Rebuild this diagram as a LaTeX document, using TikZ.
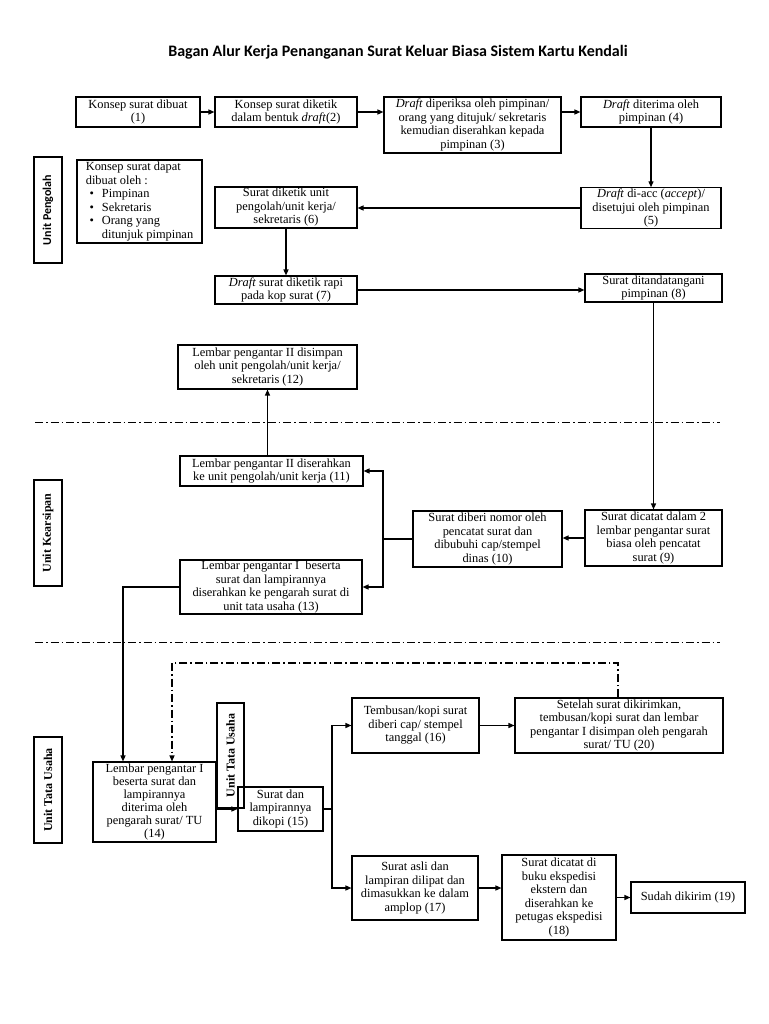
\documentclass[tikz,border=0pt]{standalone}
\usepackage{fontspec}
\setmainfont{Liberation Serif}
\newfontfamily\titlefont{Carlito}
\usetikzlibrary{arrows.meta}
\newcommand\bul{\hspace*{0.3em}\makebox[1em][l]{\textbullet}}
\begin{document}
\begin{tikzpicture}[x=1pt,y=-1pt,
 box/.style={draw, line width=1.1pt, align=center, inner sep=1pt, font=\fontsize{12.4}{13.5}\selectfont},
 arr/.style={line width=1.3pt, -{Triangle[length=6pt,width=5pt]}},
 ln/.style={line width=1.3pt},
 sep/.style={line width=1pt, dash pattern=on 8pt off 3pt on 1.5pt off 3pt},
 lab/.style={draw, line width=1.1pt, rotate=90, inner sep=0pt},
 ]
\useasboundingbox (0,0) rectangle (768,1024);

\node[font=\titlefont\bfseries\fontsize{16}{18}\selectfont] (title) at (398,52) {Bagan Alur Kerja Penanganan Surat Keluar Biasa Sistem Kartu Kendali};

% side labels
\node[lab, minimum width=106pt, minimum height=28pt, font=\titlefont\bfseries\fontsize{12}{13}\selectfont] (labP) at (48,210) {Unit Pengolah};
\node[lab, minimum width=106pt, minimum height=28pt, font=\bfseries\fontsize{12}{13}\selectfont] (labK) at (48,533) {Unit Kearsipan};
\node[lab, minimum width=106pt, minimum height=28pt, font=\bfseries\fontsize{12}{13}\selectfont] (labT) at (48,790) {Unit Tata Usaha};
\node[lab, minimum width=105pt, minimum height=27pt, font=\bfseries\fontsize{12}{13}\selectfont] (labT2) at (230.5,755.5) {Unit Tata Usaha};

% boxes
\node[box, minimum width=124pt, minimum height=30pt] (n1) at (138,112) {Konsep surat dibuat\\(1)};
\node[box, minimum width=142pt, minimum height=30pt] (n2) at (286,112) {Konsep surat diketik\\dalam bentuk \textit{draft}(2)};
\node[box, minimum width=177pt, minimum height=56pt] (n3) at (472.5,125) {\textit{Draft} diperiksa oleh pimpinan/\\orang yang ditujuk/ sekretaris\\kemudian diserahkan kepada\\pimpinan (3)};
\node[box, minimum width=140pt, minimum height=30pt] (n4) at (651,112) {\textit{Draft} diterima oleh\\pimpinan (4)};
\node[box, minimum width=140pt, minimum height=40pt] (n5) at (651,208) {\textit{Draft} di-acc (\textit{accept})/\\disetujui oleh pimpinan\\(5)};
\node[box, minimum width=142pt, minimum height=41pt] (n6) at (286,207.5) {Surat diketik unit\\pengolah/unit kerja/\\sekretaris (6)};
\node[box, minimum width=125pt, minimum height=83pt, align=left] (note) at (139.5,201.5) {Konsep surat dapat\\dibuat oleh :\\\bul Pimpinan\\\bul Sekretaris\\\bul Orang yang\\\hspace*{1.3em}ditunjuk pimpinan};
\node[box, minimum width=142pt, minimum height=28pt] (n7) at (286,290) {\textit{Draft} surat diketik rapi\\pada kop surat (7)};
\node[box, minimum width=137pt, minimum height=28pt] (n8) at (653.5,288) {Surat ditandatangani\\pimpinan (8)};
\node[box, minimum width=179pt, minimum height=44pt] (n12) at (267.5,367) {Lembar pengantar II disimpan\\oleh unit pengolah/unit kerja/\\sekretaris (12)};
\node[box, minimum width=183pt, minimum height=30pt] (n11) at (271.5,471) {Lembar pengantar II diserahkan\\ke unit pengolah/unit kerja (11)};
\node[box, minimum width=182pt, minimum height=54pt] (n13) at (271,587) {Lembar pengantar I\ \ beserta\\surat dan lampirannya\\diserahkan ke pengarah surat di\\unit tata usaha (13)};
\node[box, minimum width=149pt, minimum height=56pt] (n10) at (487.5,539) {Surat diberi nomor oleh\\pencatat surat dan\\dibubuhi cap/stempel\\dinas (10)};
\node[box, minimum width=137pt, minimum height=56pt] (n9) at (653.5,538) {Surat dicatat dalam 2\\lembar pengantar surat\\biasa oleh pencatat\\surat (9)};
\node[box, minimum width=123pt, minimum height=80pt, font=\fontsize{12.4}{13}\selectfont] (n14) at (154.5,802) {Lembar pengantar I\\beserta surat dan\\lampirannya\\diterima oleh\\pengarah surat/ TU\\(14)};
\node[box, minimum width=85pt, minimum height=44pt] (n15) at (280.5,809) {Surat dan\\lampirannya\\dikopi (15)};
\node[box, minimum width=127pt, minimum height=55pt] (n16) at (415.5,725.5) {Tembusan/kopi surat\\diberi cap/ stempel\\tanggal (16)};
\node[box, minimum width=208pt, minimum height=55pt] (n20) at (619,725.5) {Setelah surat dikirimkan,\\tembusan/kopi surat dan lembar\\pengantar I disimpan oleh pengarah\\surat/ TU (20)};
\node[box, minimum width=126pt, minimum height=64pt] (n17) at (415,888) {Surat asli dan\\lampiran dilipat dan\\dimasukkan ke dalam\\amplop (17)};
\node[box, minimum width=114pt, minimum height=85pt] (n18) at (559,897.5) {Surat dicatat di\\buku ekspedisi\\ekstern dan\\diserahkan ke\\petugas ekspedisi\\(18)};
\node[box, minimum width=114pt, minimum height=31pt] (n19) at (688,897.5) {Sudah dikirim (19)};

% separators
\draw[sep] (35,422) -- (720,422);
\draw[sep] (35,642) -- (720,642);

% connectors
\draw[arr] (n1) -- (n2);
\draw[arr] (n2.east) -- (n2.east -| n3.west);
\draw[arr] (n4.west -| n3.east) -- (n4.west);
\draw[arr] (n4) -- (n5);
\draw[arr] (n5.west) -- (n5.west -| n6.east);
\draw[arr] (n6) -- (n7);
\draw[arr] (n7.east) -- (n7.east -| n8.west);
\draw[arr] (n8) -- (n9);
\draw[arr] (n9.west) -- (n9.west -| n10.east);
\coordinate (j1) at (383,539);
\draw[ln] (n10.west) -- (j1);
\draw[arr] (j1) |- (n11.east);
\draw[arr] (j1) |- (n13.east);
\draw[arr] (n11.north -| n12.south) -- (n12.south);
\coordinate (c13) at (123,587);
\draw[arr] (n13.west) -- (c13) -- (c13 |- n14.north);
\coordinate (d1) at (618,663);
\coordinate (d2) at (172,663);
\draw[sep, line width=1.2pt, -{Triangle[length=6pt,width=5pt]}] (d1 |- n20.north) -- (d1) -- (d2) -- (d2 |- n14.north);
\draw[arr] (n14.east |- n15.west) -- (n15.west);
\coordinate (j2) at (332,809);
\draw[ln] (n15.east) -- (j2);
\draw[arr] (j2) |- (n16.west);
\draw[arr] (j2) |- (n17.west);
\draw[arr] (n16) -- (n20);
\draw[arr] (n17.east) -- (n17.east -| n18.west);
\draw[arr] (n18.east |- n19.west) -- (n19.west);
\end{tikzpicture}
\end{document}
